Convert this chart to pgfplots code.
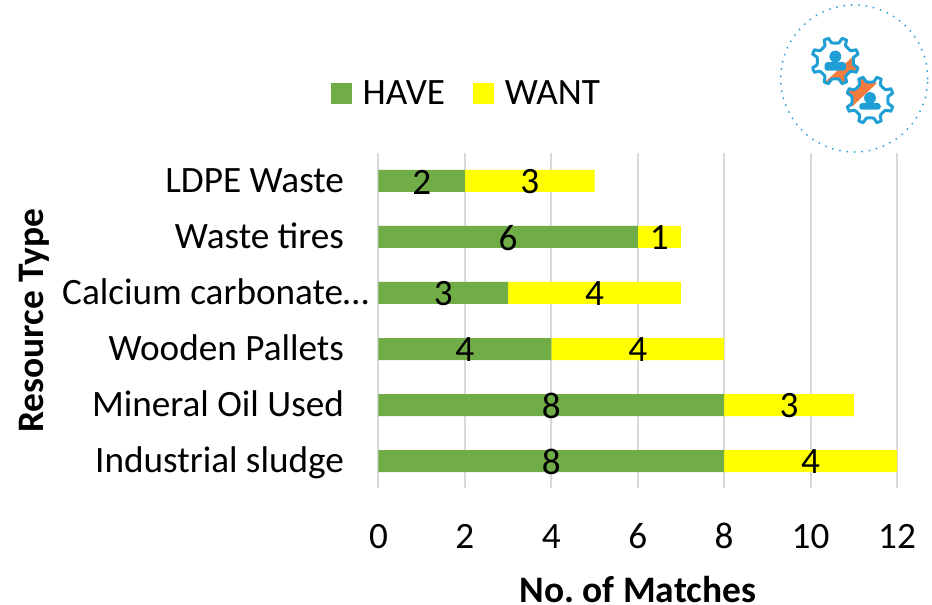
\documentclass[border=0pt]{standalone}
\usepackage{fontspec}
\setmainfont{Carlito}
\usepackage{pgfplots}
\pgfplotsset{compat=1.18}
\definecolor{havec}{HTML}{70AD47}
\definecolor{wantc}{HTML}{FFFF00}
\definecolor{gridc}{HTML}{D9D9D9}
\definecolor{logoblue}{HTML}{1F9FD6}
\definecolor{logoorange}{HTML}{F47B3C}
\newcommand{\gearpath}{%
 plot[smooth cycle,tension=0.3] coordinates {%
 (0:18)(11:18.5)(17:23.5)(28:23.5)(34:18.5)(56:18.5)(62:23.5)(73:23.5)(79:18.5)
 (101:18.5)(107:23.5)(118:23.5)(124:18.5)(146:18.5)(152:23.5)(163:23.5)(169:18.5)
 (191:18.5)(197:23.5)(208:23.5)(214:18.5)(236:18.5)(242:23.5)(253:23.5)(259:18.5)
 (281:18.5)(287:23.5)(298:23.5)(304:18.5)(326:18.5)(332:23.5)(343:23.5)(349:18.5)}}
\begin{document}
\frenchspacing
\begin{tikzpicture}[x=1pt,y=1pt]
\path[use as bounding box,fill=white] (0,0) rectangle (932,605);
\begin{axis}[
  at={(378.5pt,117pt)},anchor=south west,
  scale only axis,width=518.5pt,height=335pt,
  xbar stacked,bar width=22pt,
  xmin=0,xmax=12,ymin=-0.482,ymax=5.5,
  xtick={0,2,4,6,8,10,12},
  ytick={0,1,2,3,4,5},
  yticklabels={Industrial sludge,Mineral Oil Used,Wooden Pallets,Calcium carbonate\ldots\hspace*{-25pt},Waste tires,LDPE Waste},
  major tick length=0pt,
  xmajorgrids,
  major grid style={gridc,line width=2pt},
  axis line style={draw=none},
  axis y line*=left,
  axis x line*=bottom,
  /pgf/number format/assume math mode=true,
  tick label style={font=\fontsize{37.2}{39}\selectfont,text=black},
  xticklabel style={anchor=base,yshift=-61pt},
  yticklabel style={xshift=-31pt,anchor=east,text height=30pt,text depth=7pt},
  xlabel={\textbf{No. of Matches}},
  ylabel={\textbf{Resource Type}},
  label style={font=\fontsize{37.4}{39}\selectfont},
  xlabel style={at={(axis description cs:0.5,-0.343)},anchor=base,inner sep=0pt,text depth=0pt},
  ylabel style={at={(axis description cs:-0.664,0.5)},anchor=center},
  nodes near coords,
  every node near coord/.style={font=\fontsize{37.2}{39}\selectfont,text=black,yshift=-1pt},
  legend style={draw=none,fill=none,at={(-0.0927,1.177)},anchor=west,legend columns=2,inner sep=0pt,
    font=\fontsize{37.2}{39}\selectfont,/tikz/every even column/.style={column sep=26pt}},
  legend cell align=left,
  legend image code/.code={\fill[#1] (0pt,-10.5pt) rectangle (21pt,10.5pt);\path (30pt,0pt);},
]
\addplot[fill=havec,draw=none] coordinates {(8,0)(8,1)(4,2)(3,3)(6,4)(2,5)};
\addlegendentry{HAVE}
\addplot[fill=wantc,draw=none] coordinates {(4,0)(3,1)(4,2)(4,3)(1,4)(3,5)};
\addlegendentry{WANT}
\end{axis}
% logo
\draw[logoblue,line width=2pt,dash pattern=on 0pt off 7.38pt,line cap=round] (854.2,526.5) circle (73.5);
\begin{scope}[shift={(835.3,544)}]
 \begin{scope}\clip \gearpath; \fill[logoorange] (-10,-20.7) -- (23,9.3) -- (40,-30) -- cycle; \end{scope}
 \draw[logoblue,line width=3pt] \gearpath;
 \fill[logoblue] (0,4.5) circle (5.9);
 \fill[logoblue,rounded corners=3pt] (-11,-9.7) -- (-10.5,-1) -- (10.5,-1) -- (11,-9.7) -- cycle;
\end{scope}
\begin{scope}[shift={(870,505)}]
 \begin{scope}\clip \gearpath; \fill[logoorange] (-18,-6.7) -- (6.7,16.7) -- (-30,40) -- cycle; \end{scope}
 \draw[logoblue,line width=3pt] \gearpath;
 \fill[logoblue] (0,2) circle (5.9);
 \fill[logoblue,rounded corners=3pt] (-11,-9.7) -- (-10.5,-3) -- (10.5,-3) -- (11,-9.7) -- cycle;
\end{scope}
\end{tikzpicture}
\end{document}
